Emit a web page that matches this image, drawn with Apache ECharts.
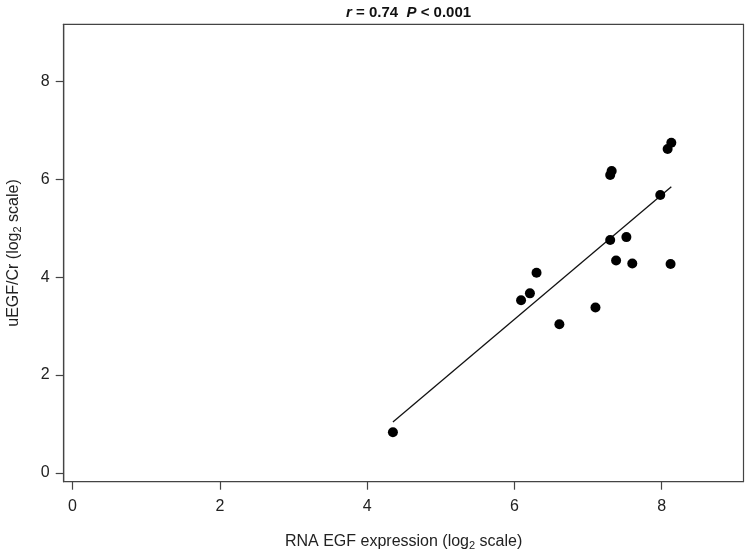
<!DOCTYPE html>
<html>
<head>
<meta charset="utf-8">
<script src="https://cdn.jsdelivr.net/npm/echarts@6/dist/echarts.min.js"></script>
<style>
  html, body { margin: 0; padding: 0; background: #fff; }
  #chart { width: 747px; height: 552px; }
</style>
</head>
<body>
<div id="chart"></div>
<script>
// RNA EGF expression (log2) vs uEGF/Cr (log2)
const rnaEgf = [4.35, 6.61, 6.09, 6.21, 6.30, 7.10, 7.30, 7.38, 7.52, 7.60, 8.12, 7.98, 7.30, 7.32, 8.08, 8.13]
const uEgfCr = [0.83, 3.04, 3.53, 3.67, 4.09, 3.38, 4.76, 4.34, 4.82, 4.28, 4.27, 5.68, 6.09, 6.17, 6.62, 6.75]

// fitted line end points
const fitX = [4.35, 8.13]
const fitY = [1.04, 5.85]

const xTicks = [0, 2, 4, 6, 8]
const yTicks = [0, 2, 4, 6, 8]

const font = 'Liberation Sans, Arial, Helvetica, sans-serif'
const textColor = '#222'
const axisColor = '#444'

const chart = echarts.init(document.getElementById('chart'))

const option = {
  animation: false,
  title: {
    text: '{i|r} = 0.74  {i|P} < 0.001',
    left: 403.6,
    textAlign: 'center',
    top: 0,
    textStyle: {
      fontFamily: font,
      fontSize: 15,
      fontWeight: 'bold',
      color: '#111',
      rich: {
        i: { fontFamily: font, fontSize: 15, fontWeight: 'bold', fontStyle: 'italic', color: '#111' }
      }
    }
  },
  grid: {
    left: 63.7,
    right: 3.5,
    top: 24.3,
    bottom: 70.3,
    outerBoundsMode: 'none',
    containLabel: false,
    show: true,
    borderColor: axisColor,
    borderWidth: 1.2,
    backgroundColor: 'transparent'
  },
  xAxis: {
    type: 'value',
    min: -0.12,
    max: 9.11,
    name: 'RNA EGF expression (log{s|2} scale)',
    nameLocation: 'middle',
    nameGap: 50,
    nameTextStyle: {
      fontFamily: font, fontSize: 16, color: textColor,
      rich: { s: { fontFamily: font, fontSize: 11, color: textColor, padding: [9, 0, 0, 0] } }
    },
    axisLine: { show: true, onZero: false, lineStyle: { color: axisColor, width: 1.2 } },
    axisTick: { show: true, length: 8, customValues: xTicks, lineStyle: { color: axisColor, width: 1.2 } },
    axisLabel: { customValues: xTicks, margin: 17, fontFamily: font, fontSize: 16, color: textColor },
    splitLine: { show: false }
  },
  yAxis: {
    type: 'value',
    min: -0.18,
    max: 9.17,
    name: 'uEGF/Cr (log{s|2} scale)',
    nameLocation: 'middle',
    nameGap: 40,
    nameTextStyle: {
      fontFamily: font, fontSize: 16, color: textColor,
      rich: { s: { fontFamily: font, fontSize: 11, color: textColor, padding: [9, 0, 0, 0] } }
    },
    axisLine: { show: true, onZero: false, lineStyle: { color: axisColor, width: 1.2 } },
    axisTick: { show: true, length: 8, customValues: yTicks, lineStyle: { color: axisColor, width: 1.2 } },
    axisLabel: { customValues: yTicks, margin: 14, fontFamily: font, fontSize: 16, color: textColor },
    splitLine: { show: false }
  },
  series: [
    {
      type: 'line',
      data: fitX.map((x, i) => [x, fitY[i]]),
      showSymbol: false,
      lineStyle: { color: '#111', width: 1.3 },
      z: 1
    },
    {
      type: 'scatter',
      data: rnaEgf.map((x, i) => [x, uEgfCr[i]]),
      symbol: 'circle',
      symbolSize: 10,
      itemStyle: { color: '#000', opacity: 1 },
      z: 2
    }
  ]
}

chart.setOption(option)
</script>
</body>
</html>
